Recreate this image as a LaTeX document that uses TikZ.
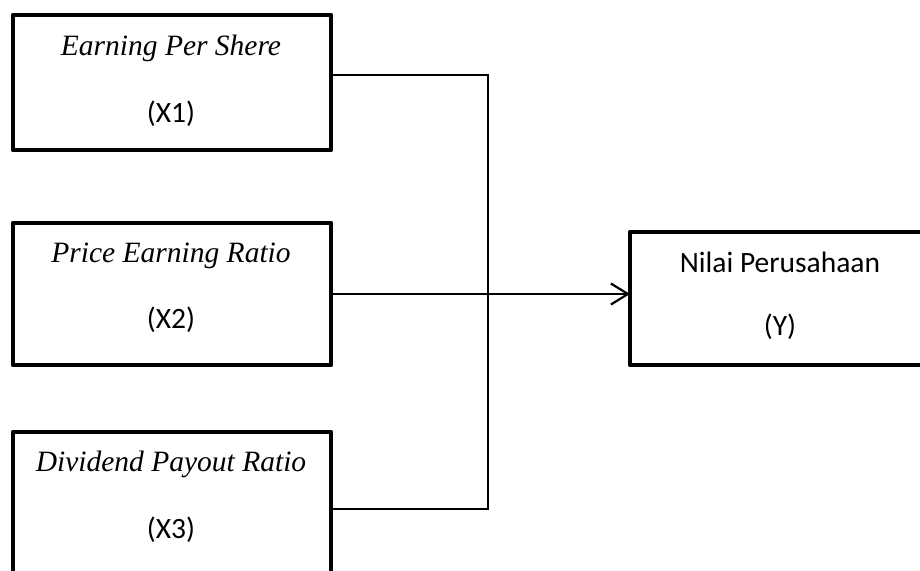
\documentclass[tikz,border=0pt]{standalone}
\usepackage{fontspec}
\setmainfont{Liberation Serif}
\newfontfamily\calibrifont{Carlito}
\usetikzlibrary{arrows.meta}
\tikzset{
  box/.style={draw=black, line width=4.5pt, line join=round, fill=white, anchor=north west, inner sep=0pt, outer sep=0pt},
  ital/.style={anchor=base, inner sep=0pt, font=\fontsize{29.5}{35}\selectfont\itshape},
  sans/.style={anchor=base, inner sep=0pt, font=\fontsize{29.5}{35}\selectfont\calibrifont},
  conn/.style={draw=black, line width=2.2pt},
  arr/.style={conn, -{Straight Barb[length=17pt,width=21pt,line width=2.2pt]}}
}
\begin{document}
\begin{tikzpicture}[x=1pt,y=-1pt]
\clip (0,0) rectangle (920,570);
\fill[white] (0,0) rectangle (920,570);
% boxes
\node[box, minimum width=318pt, minimum height=135pt] (x1) at (13,15) {};
\node[box, minimum width=318pt, minimum height=142pt] (x2) at (13,223) {};
\node[box, minimum width=318pt, minimum height=170pt] (x3) at (13,432) {};
\node[box, minimum width=305pt, minimum height=133pt] (y) at (630,232) {};
% texts
\node[ital] (t1a) at (171,55) {Earning Per Shere};
\node[sans] (t1b) at (171,122) {(X1)};
\node[ital] (t2a) at (171,262) {Price Earning Ratio};
\node[sans] (t2b) at (171,328) {(X2)};
\node[ital] (t3a) at (171,471) {Dividend Payout Ratio};
\node[sans] (t3b) at (171,538) {(X3)};
\node[sans] (tya) at (780,272) {Nilai Perusahaan};
\node[sans] (tyb) at (780,335) {(Y)};
% connectors
\coordinate (j1) at (488,75);
\coordinate (j3) at (488,509);
\draw[conn, line join=miter] (x1.east |- j1) -- (j1) -- (j3) -- (x3.east |- j3);
\draw[arr] (x2.east) -- (x2.east -| y.west);
\end{tikzpicture}
\end{document}
